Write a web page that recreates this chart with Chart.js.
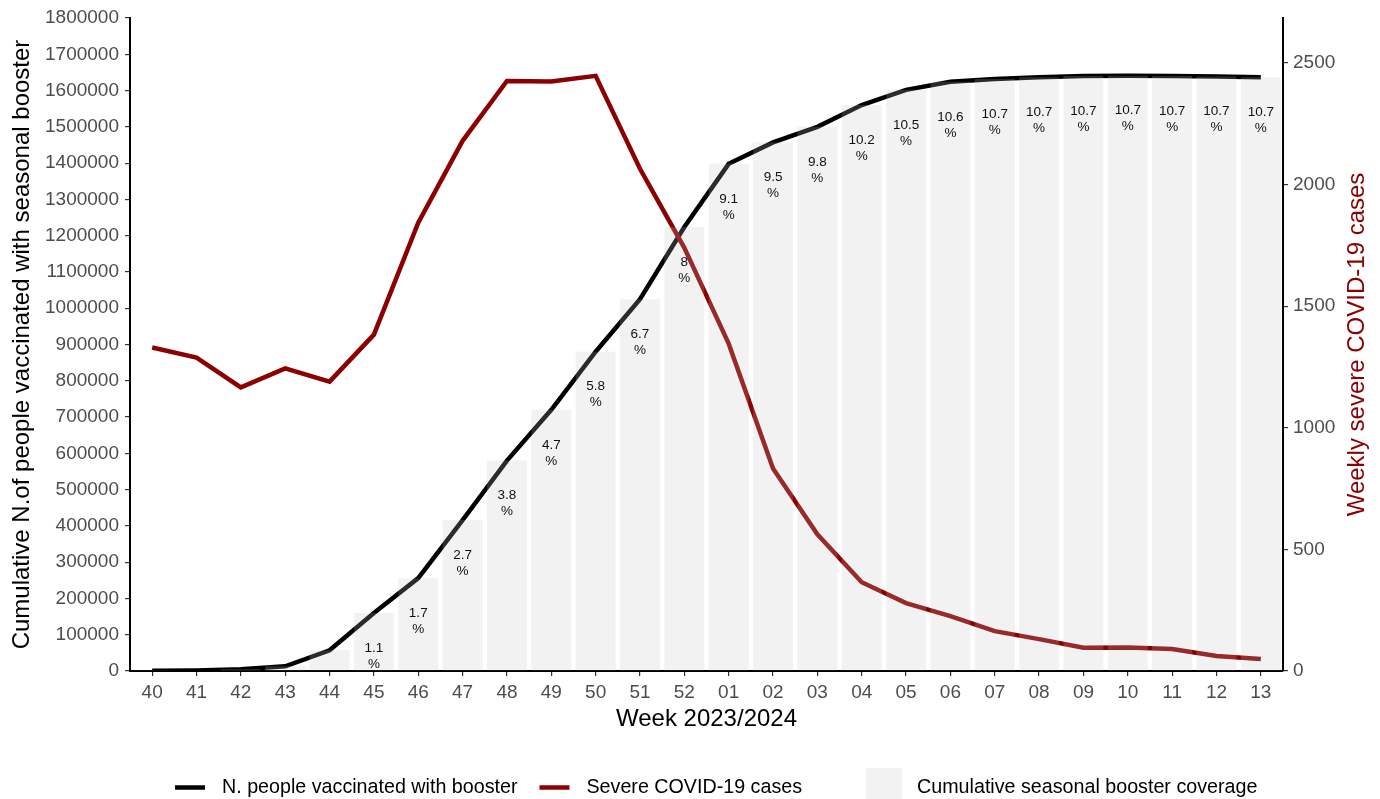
<!DOCTYPE html>
<html>
<head>
<meta charset="utf-8">
<script src="https://cdn.jsdelivr.net/npm/chart.js@4"></script>
<style>
  body { margin: 0; background: #fff; }
  #wrap { width: 1380px; height: 799px; }
</style>
</head>
<body>
<div id="wrap"><canvas id="boosterChart"></canvas></div>
<script>
// weeks of the 2023/2024 season
const weeks = ['40', '41', '42', '43', '44', '45', '46', '47', '48', '49', '50', '51', '52',
  '01', '02', '03', '04', '05', '06', '07', '08', '09', '10', '11', '12', '13'];

// cumulative people vaccinated with the seasonal booster (left axis)
const vaccinated = [500, 1500, 5000, 13000, 57000, 160000, 256000, 416000, 580000, 720000, 880000, 1025000, 1224000,
  1398000, 1457000, 1500000, 1560000, 1602000, 1624000, 1632000, 1637000, 1640000, 1641000, 1640000, 1639000, 1637000];

// weekly severe covid-19 cases (right axis)
const severeCases = [1330, 1289, 1166, 1244, 1190, 1383, 1843, 2180, 2426, 2424, 2447, 2065, 1740,
  1346, 833, 562, 365, 279, 226, 164, 131, 96, 97, 90, 62, 49];

// cumulative seasonal booster coverage in %, shown on the bars (not readable for 40-44)
const coverage = [null, null, null, null, null, 1.1, 1.7, 2.7, 3.8, 4.7, 5.8, 6.7, 8,
  9.1, 9.5, 9.8, 10.2, 10.5, 10.6, 10.7, 10.7, 10.7, 10.7, 10.7, 10.7, 10.7];

// axis ranges and tick labels
const leftRange = [0, 1800000];
const leftStep = 100000;
const rightRange = [0, 2685];
const rightTickValues = [0, 500, 1000, 1500, 2000, 2500];

const FONT = "'Liberation Sans', Arial, sans-serif";
const TICK_GREY = '#4d4d4d';
const DARK_RED = '#8b0000';
const BAR_FILL = 'rgba(194,194,194,0.22)';

//writes the % coverage inside every bar, a little below its top.
const coverageLabels = {
  id: 'coverageLabels',
  afterDatasetsDraw(chart) {
    const ctx = chart.ctx;
    const area = chart.chartArea;
    const meta = chart.getDatasetMeta(2);
    ctx.save();
    ctx.beginPath();
    ctx.rect(area.left, area.top, area.right - area.left, area.bottom - area.top);
    ctx.clip();
    ctx.font = '13.5px ' + FONT;
    ctx.fillStyle = '#111';
    ctx.textAlign = 'center';
    ctx.textBaseline = 'middle';
    meta.data.forEach((bar, i) => {
      if (coverage[i] == null) return;
      ctx.fillText(String(coverage[i]), bar.x, bar.y + 35);
      ctx.fillText('%', bar.x, bar.y + 51);
    });
    ctx.restore();
  }
};

//right axis title reads bottom to top like the left one, chart.js would turn it the other way.
const rightTitle = {
  id: 'rightTitle',
  afterDraw(chart) {
    const ctx = chart.ctx;
    const area = chart.chartArea;
    ctx.save();
    ctx.translate(1357, (area.top + area.bottom) / 2);
    ctx.rotate(-Math.PI / 2);
    ctx.font = '24px ' + FONT;
    ctx.fillStyle = DARK_RED;
    ctx.textAlign = 'center';
    ctx.textBaseline = 'middle';
    ctx.fillText('Weekly severe COVID-19 cases', 0, 0);
    ctx.restore();
  }
};

//legend at the bottom: two line keys and one filled box.
const bottomLegend = {
  id: 'bottomLegend',
  afterDraw(chart) {
    const ctx = chart.ctx;
    const y = 787.5;
    let x = 175;
    ctx.save();
    ctx.font = '19.7px ' + FONT;
    ctx.textBaseline = 'middle';
    chart.data.datasets.forEach((ds) => {
      if (ds.type === 'line') {
        ctx.strokeStyle = ds.borderColor;
        ctx.lineWidth = 4.5;
        ctx.beginPath();
        ctx.moveTo(x, y);
        ctx.lineTo(x + 30, y);
        ctx.stroke();
        x += 47;
      } else {
        x += 42;
        ctx.fillStyle = ds.backgroundColor;
        ctx.fillRect(x, 768, 36, 34);
        x += 51;
      }
      ctx.fillStyle = '#000';
      ctx.fillText(ds.label, x, y);
      x += ctx.measureText(ds.label).width + 22;
    });
    ctx.restore();
  }
};

new Chart('boosterChart', {
  type: 'bar',
  data: {
    labels: weeks,
    datasets: [{
      type: 'line',
      label: 'N. people vaccinated with booster',
      data: vaccinated,
      yAxisID: 'y',
      borderColor: '#000',
      borderWidth: 4.5,
      pointRadius: 0,
      tension: 0,
      order: 2
    }, {
      type: 'line',
      label: 'Severe COVID-19 cases',
      data: severeCases,
      yAxisID: 'y1',
      borderColor: DARK_RED,
      borderWidth: 4.5,
      pointRadius: 0,
      tension: 0,
      order: 1
    }, {
      type: 'bar',
      label: 'Cumulative seasonal booster coverage',
      data: vaccinated,
      yAxisID: 'y',
      backgroundColor: BAR_FILL,
      barPercentage: 0.9,
      categoryPercentage: 1.0,
      order: 0
    }]
  },
  options: {
    responsive: true,
    maintainAspectRatio: false,
    animation: false,
    layout: { padding: { top: 18, right: 0, bottom: 65, left: 0 } },
    plugins: {
      legend: { display: false },
      tooltip: { enabled: false }
    },
    scales: {
      x: {
        grid: { display: true, drawOnChartArea: false, offset: false, tickLength: 5, color: '#333', lineWidth: 1.2 },
        border: { display: true, color: '#000', width: 2 },
        ticks: { color: TICK_GREY, font: { family: FONT, size: 19 }, padding: 5, maxRotation: 0, autoSkip: false },
        title: { display: true, text: 'Week 2023/2024', color: '#000', font: { family: FONT, size: 24 }, padding: { top: 0, bottom: 0 } },
        afterFit(scale) { scale.height = 63; }
      },
      y: {
        position: 'left',
        min: leftRange[0],
        max: leftRange[1],
        grid: { display: true, drawOnChartArea: false, tickLength: 5, color: '#333', lineWidth: 1.2 },
        border: { display: true, color: '#000', width: 2 },
        ticks: { stepSize: leftStep, color: TICK_GREY, font: { family: FONT, size: 19 }, padding: 6, callback: v => String(v) },
        title: { display: true, text: 'Cumulative N.of people vaccinated with seasonal booster', color: '#000', font: { family: FONT, size: 24 }, padding: { top: 8, bottom: 0 } },
        afterFit(scale) { scale.width = 130; }
      },
      y1: {
        position: 'right',
        min: rightRange[0],
        max: rightRange[1],
        grid: { display: true, drawOnChartArea: false, tickLength: 5, color: '#333', lineWidth: 1.2 },
        border: { display: true, color: '#000', width: 2 },
        ticks: { color: TICK_GREY, font: { family: FONT, size: 19 }, padding: 5, autoSkip: false, callback: v => String(v) },
        afterBuildTicks(scale) { scale.ticks = rightTickValues.map(v => ({ value: v })); },
        afterFit(scale) { scale.width = 97; }
      }
    }
  },
  plugins: [coverageLabels, rightTitle, bottomLegend]
});
</script>
</body>
</html>
